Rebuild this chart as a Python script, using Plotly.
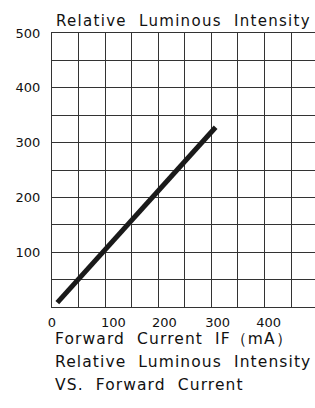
import plotly.graph_objects as go

# Data
current_ma = [10, 308]          # Forward current IF (mA)
rel_intensity = [8, 328]        # Relative luminous intensity

NB = "\u00a0"
x_tickvals = [0, 100, 200, 300, 400]
x_ticktext = ["0", NB * 4 + "100", NB * 3 + "200", NB * 3 + "300", NB * 2 + "400"]
y_tickvals = [100, 200, 300, 400, 500]
y_ticktext = ["100", "200", "300", "400", "500"]

FONT = "DejaVu Sans"
GRID = "#333333"

fig = go.Figure()
fig.add_trace(go.Scatter(
    x=current_ma, y=rel_intensity, mode="lines",
    line=dict(color="#1a1a1a", width=5),
    hoverinfo="skip", showlegend=False,
))

fig.update_layout(
    width=315, height=408,
    margin=dict(l=52, r=0, t=33, b=100.5, pad=0),
    paper_bgcolor="white", plot_bgcolor="white",
    font=dict(family=FONT, color="#111", size=13),
    showlegend=False,
    xaxis=dict(
        range=[0, 495],
        showgrid=True, gridcolor=GRID, gridwidth=1,
        zeroline=False, showline=True, linecolor=GRID, linewidth=1, mirror=True,
        tickmode="array", tickvals=x_tickvals, ticktext=x_ticktext,
        ticks="", ticklabelstandoff=3,
        tickfont=dict(family=FONT, size=13, color="#111"),
        minor=dict(dtick=50, tick0=0, showgrid=True, gridcolor=GRID, gridwidth=1),
        fixedrange=True,
    ),
    yaxis=dict(
        range=[0, 500],
        showgrid=True, gridcolor=GRID, gridwidth=1,
        zeroline=False, showline=True, linecolor=GRID, linewidth=1, mirror=False,
        tickmode="array", tickvals=y_tickvals, ticktext=y_ticktext,
        ticks="", ticklabelstandoff=8,
        tickfont=dict(family=FONT, size=13, color="#111"),
        minor=dict(dtick=50, showgrid=True, gridcolor=GRID, gridwidth=1),
        fixedrange=True,
    ),
)

texts = [
    ("Relative" + NB * 2 + "Luminous" + NB * 2 + "Intensity", 0.008, 1.043, 15),
    ("Forward" + NB * 2 + "Current" + NB * 2 + "IF（mA）", 0.005, -0.116, 15.5),
    ("Relative" + NB * 2 + "Luminous" + NB * 2 + "Intensity", 0.005, -0.199, 15.5),
    ("VS." + NB * 2 + "Forward" + NB * 2 + "Current", 0.005, -0.283, 15.5),
]
for t, xp, yp, fs in texts:
    fig.add_annotation(text=t, xref="paper", yref="paper", x=xp, y=yp,
                       xanchor="left", yanchor="middle", showarrow=False,
                       font=dict(family=FONT, size=fs, color="#111"))

# remove the page margin (so the figure fills the window exactly) and widen
# letter spacing while keeping each text's left edge in place
post = """
document.documentElement.style.margin = '0';
document.body.style.margin = '0';
document.body.style.overflow = 'hidden';
var ann = document.querySelectorAll('.annotation-text');
ann.forEach(function(e, i){
  var b0 = e.getBBox();
  e.setAttribute('text-anchor', 'start');
  e.setAttribute('x', b0.x);
  e.setAttribute('letter-spacing', i === 0 ? '1.3px' : '1.1px');
});
"""
fig.write_html("out.html", post_script=post,
               config={"displayModeBar": False, "staticPlot": True})
